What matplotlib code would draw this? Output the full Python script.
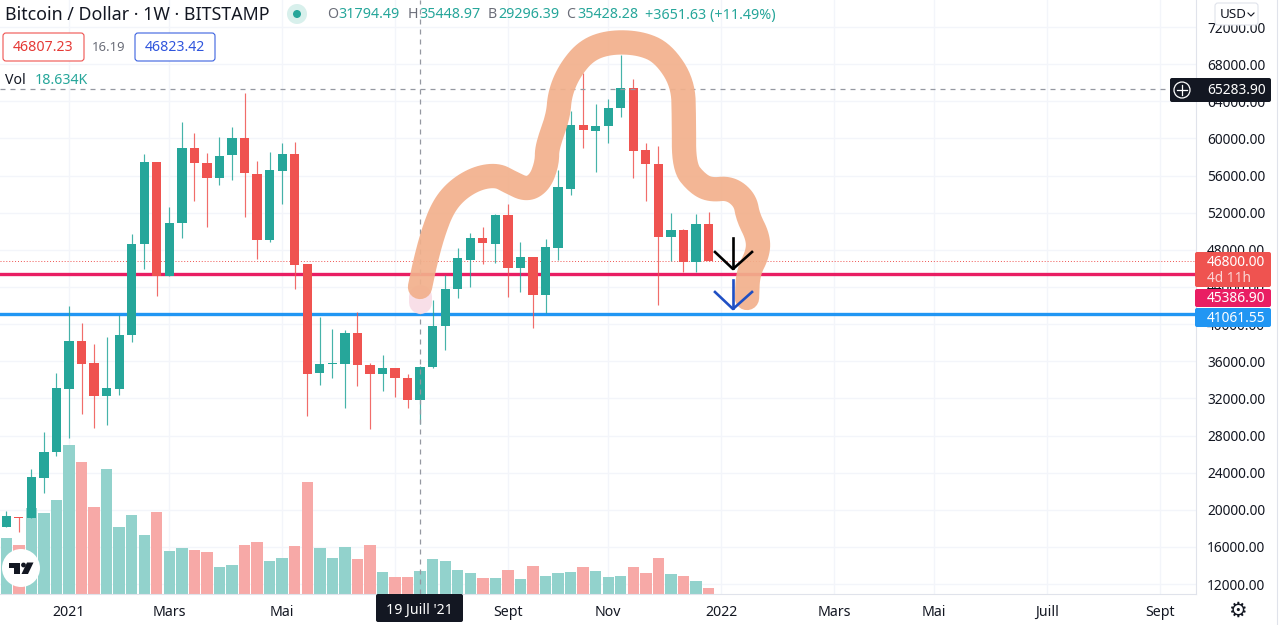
import numpy as np
import matplotlib
matplotlib.use("Agg")
import matplotlib.pyplot as plt
from matplotlib.patches import FancyBboxPatch, Circle, Polygon

plt.rcParams['font.family'] = ['Noto Sans', 'DejaVu Sans']

# weekly candles
opens = [18182, 19259, 19087, 23460, 26228, 33045, 38182, 35781, 32226, 33045, 38796, 48597, 57493, 45183, 50923,
         58968, 57385, 55705, 58214, 60013, 56168, 49060, 56524, 58322, 46443, 34736, 35673, 35738, 39012, 35597,
         34661, 35242, 34165, 31794.49, 35428, 39830, 43815, 46906, 49275, 48662, 51752, 46012, 47229, 43136, 48220,
         54583, 61445, 60799, 61338, 63309, 65430, 58700, 57278, 49415, 50105, 46691, 50800]
closes = [19335, 19152, 23503, 26260, 33120, 38182, 35738, 32226, 33120, 38828, 48597, 57493, 45215, 50923, 58968,
          57385, 55705, 58139, 60013, 56276, 49092, 56567, 58322, 46367, 34661, 35705, 35813, 39012, 35565, 34661,
          35307, 34165, 31794, 35428.28, 39830, 43815, 47089, 49275, 48769, 51785, 46012, 47229, 43136, 48274, 54736,
          61445, 60907, 61370, 63309, 65430, 58678, 57278, 49415, 50105, 46691, 50751, 46800]
highs = [19906, 19259, 24364, 28382, 34768, 41984, 40153, 37859, 38645, 40982, 49706, 58322, 57493, 52582, 61736,
         60552, 58398, 60121, 61230, 64860, 57601, 58505, 59539, 59647, 46443, 40799, 39475, 39367, 41338, 35781,
         36642, 35242, 34661, 35448.97, 42598, 45290, 48166, 49782, 50492, 51860, 52937, 48812, 47229, 49168, 56567,
         62953, 67014, 63675, 64213, 68984, 66367, 59539, 59216, 51936, 50212, 51860, 52043]
lows = [18182, 17644, 19087, 21844, 25829, 27768, 30288, 28812, 29135, 32399, 38042, 45904, 43061, 45183, 49308,
        53293, 50428, 54983, 55522, 51537, 47014, 48877, 52937, 43783, 30137, 33411, 34230, 30999, 33336, 28672,
        32765, 32151, 30999, 29296.39, 35300, 37213, 42846, 43966, 46443, 46551, 42953, 43427, 39615, 41166, 46906,
        53939, 59001, 56416, 59475, 62339, 55705, 53293, 42059, 46831, 45646, 45646, 46800]
# volume in thousands
volumes = [44.8, 39, 69, 65, 75, 119.4, 105.6, 69.6, 100, 53.6, 63, 47, 66, 34.4, 37, 35, 33.6, 21.6, 23, 39, 42,
           26.6, 28.8, 38.4, 89.6, 36.8, 28.8, 37.6, 28, 39, 17.6, 13.8, 13.8, 18.634, 27.8, 26.6, 18.9, 16.8, 12.8,
           12.8, 18.9, 12, 22.4, 14.6, 16.8, 17.6, 21.6, 18.4, 13.8, 14.6, 21.6, 16.8, 28.5, 16.2, 14.1, 10.6, 5]
vol_up = [1, 0, 1, 1, 1, 1, 0, 0, 1, 1, 1, 1, 0, 1, 1, 0, 0, 1, 1, 0, 0, 1, 1, 0, 0, 1, 1, 1, 0, 0, 1, 0, 0, 1, 1,
          1, 1, 1, 0, 1, 0, 1, 0, 1, 1, 1, 0, 1, 1, 1, 0, 0, 0, 1, 0, 1, 0]

price_ticks = list(range(12000, 76000, 4000))
time_ticks = [5, 13, 22, 31, 40, 48, 57, 66, 74, 83, 92]
time_labels = ['2021', 'Mars', 'Mai', '', 'Sept', 'Nov', '2022', 'Mars', 'Mai', 'Juill', 'Sept']

support_red = 45386.90
support_blue = 41061.55
last_price = 46800.00
crosshair_price = 65283.90
crosshair_week = 33

# freehand marker stroke and arrows, screen position
stroke_x = [420, 425, 433, 443, 457, 477, 497, 510, 527, 540, 547, 547, 558, 560, 570, 587, 610, 640, 663, 683,
            684, 684, 697, 710, 730, 745, 748, 758, 758, 748, 747]
stroke_y = [287, 263, 233, 207, 190, 178, 175, 182, 190, 182, 163, 147, 117, 93, 70, 50, 42, 43, 53, 83,
            120, 167, 183, 190, 188, 200, 217, 237, 253, 273, 298]

UP = '#26a69a'
DOWN = '#ef5350'
UP_VOL = '#92d2cc'
DOWN_VOL = '#f7a9a7'
GRID = '#f3f5fa'
TEXT = '#131722'
LABEL_SIZE = 9.9


def chaikin(xs, ys, rounds=3):
    # rounds off the corners of the hand drawn stroke
    pts = np.column_stack([xs, ys]).astype(float)
    for _ in range(rounds):
        q = 0.75 * pts[:-1] + 0.25 * pts[1:]
        r = 0.25 * pts[:-1] + 0.75 * pts[1:]
        mid = np.empty((2 * len(q), 2))
        mid[0::2] = q
        mid[1::2] = r
        pts = np.vstack([pts[0], mid, pts[-1]])
    return pts[:, 0], pts[:, 1]


fig = plt.figure(figsize=(12.8, 6.25), dpi=100)
ax = fig.add_axes([0, 31 / 625, 1196 / 1280, 594 / 625])
ax.set_xlim(-0.502, 94.87)
y_min, y_max = 10934, 74908
ax.set_ylim(y_min, y_max)

weeks = np.arange(len(opens))
vol_scale = (y_max - y_min) / 475.2

ax.bar(weeks, np.array(volumes) * vol_scale, bottom=y_min, width=0.91,
       color=[UP_VOL if u else DOWN_VOL for u in vol_up], zorder=2)

ax.axhline(support_red, color='#e91e63', lw=2.4, zorder=3)
ax.axhline(support_blue, color='#2196f3', lw=2.4, zorder=3)
ax.axhline(last_price, color=DOWN, lw=0.7, ls=(0, (1, 2)), zorder=3)
ax.axhline(crosshair_price, color='#9598a1', lw=0.9, ls=(0, (4, 4)), zorder=6)
ax.axvline(crosshair_week, color='#9598a1', lw=0.9, ls=(0, (4, 4)), zorder=6)

for i in weeks:
    c = UP if closes[i] >= opens[i] else DOWN
    ax.vlines(i, lows[i], highs[i], color=c, lw=0.85, alpha=0.85, zorder=4)
    ax.bar(i, abs(closes[i] - opens[i]), bottom=min(opens[i], closes[i]), width=0.74, color=c, zorder=5)

ax.set_yticks(price_ticks, [f'{p:.2f}' for p in price_ticks])
ax.yaxis.tick_right()
ax.set_xticks(time_ticks, time_labels)
ax.grid(True, color=GRID, lw=1, zorder=0)
ax.set_axisbelow(True)
ax.tick_params(axis='y', length=0, pad=8, labelsize=LABEL_SIZE, labelcolor=TEXT)
ax.tick_params(axis='x', length=0, pad=8, labelsize=10.2, labelcolor=TEXT)
for lab in ax.get_xticklabels():
    if lab.get_text() in ('2021', '2022'):
        lab.set_fontweight('bold')
for name in ('top', 'left'):
    ax.spines[name].set_visible(False)
for name in ('right', 'bottom'):
    ax.spines[name].set_color('#e0e3eb')

# overlay in screen pixels for the marker drawing and the TradingView labels
ov = fig.add_axes([0, 0, 1, 1], zorder=10)
ov.set_xlim(0, 1280)
ov.set_ylim(625, 0)
ov.axis('off')
ov.patch.set_alpha(0)

ov.plot([420, 420], [296, 302], color='#f8dfe8', lw=16.5, solid_capstyle='round', zorder=1)
sx, sy = chaikin(stroke_x, stroke_y)
ov.plot(sx, sy, color='#f2b08c', lw=17.5, alpha=0.92, solid_capstyle='round', solid_joinstyle='round', zorder=2)

ov.plot([733, 733], [238, 268], color='black', lw=1.9, zorder=3)
ov.plot([715, 733, 752], [252, 269, 252], color='black', lw=1.9, zorder=3)
ov.plot([733, 733], [280, 308], color='#1f4fc4', lw=1.9, zorder=3)
ov.plot([715, 733, 752], [292, 309, 292], color='#1f4fc4', lw=1.9, zorder=3)


def price_box(x0, y0, x1, y1, color):
    ov.add_patch(FancyBboxPatch((x0 + 1, y0 + 1), x1 - x0 - 2, y1 - y0 - 2, boxstyle='round,pad=1,rounding_size=2',
                                fc=color, ec='none', zorder=5))


price_box(1170, 78, 1271, 102, '#131722')
ov.add_patch(Circle((1182, 90), 8, fc='none', ec='white', lw=0.9, zorder=6))
ov.plot([1177, 1187], [90, 90], color='white', lw=0.9, zorder=6)
ov.plot([1182, 1182], [85, 95], color='white', lw=0.9, zorder=6)
ov.text(1207, 90.5, f'{crosshair_price:.2f}', color='white', fontsize=LABEL_SIZE, fontweight='bold', va='center', zorder=6)

price_box(1195, 252, 1271, 287, DOWN)
ov.text(1207, 262, f'{last_price:.2f}', color='white', fontsize=LABEL_SIZE, fontweight='bold', va='center', zorder=6)
ov.text(1207, 278, '4d 11h', color='#fbd5d4', fontsize=LABEL_SIZE, fontweight='bold', va='center', zorder=6)
price_box(1195, 289, 1271, 307, '#e91e63')
ov.text(1207, 298.5, f'{support_red:.2f}', color='white', fontsize=LABEL_SIZE, fontweight='bold', va='center', zorder=6)
price_box(1195, 308, 1271, 327, '#2196f3')
ov.text(1207, 318, f'{support_blue:.2f}', color='white', fontsize=LABEL_SIZE, fontweight='bold', va='center', zorder=6)

ov.add_patch(FancyBboxPatch((1216, 4), 41, 20, boxstyle='round,pad=1,rounding_size=3', fc='white', ec='#e0e3eb',
                            lw=0.8, zorder=5))
ov.text(1220, 14, 'USD', color=TEXT, fontsize=9.7, va='center', zorder=6)
ov.plot([1248, 1251, 1254], [13, 16, 13], color=TEXT, lw=0.8, zorder=6)

price_box(376, 594, 463, 622, '#131722')
ov.text(419.5, 610, "19 Juill '21", color='white', fontsize=10.2, fontweight='bold', ha='center', va='center', zorder=6)
ov.text(1237, 611, '\u2699', color=TEXT, fontsize=15, ha='center', va='center', family='DejaVu Sans', zorder=6)
ov.plot([1277, 1277], [0, 625], color='#e0e3eb', lw=0.8, zorder=1)

# header
ov.text(5, 14.5, 'Bitcoin / Dollar \u00b7 1W \u00b7 BITSTAMP', color=TEXT, fontsize=12.8, va='center', zorder=6)
ov.add_patch(Circle((297, 14), 10, fc='#d8f0ec', ec='none', zorder=5))
ov.add_patch(Circle((297, 14), 4, fc=UP, ec='none', zorder=6))

ohlc_letters = [('O', 327), ('H', 408), ('B', 488), ('C', 566)]
ohlc_values = [('31794.49', 338), ('35448.97', 419), ('29296.39', 498), ('35428.28', 577),
               ('+3651.63 (+11.49%)', 645)]
for s, x in ohlc_letters:
    ov.text(x, 15, s, color='#6a6d78', fontsize=10.2, va='center', zorder=6)
for s, x in ohlc_values:
    ov.text(x, 15, s, color=UP, fontsize=10.3, va='center', zorder=6)

ov.add_patch(FancyBboxPatch((5, 35), 77, 24, boxstyle='round,pad=2,rounding_size=3', fc='white', ec='#ef5350',
                            lw=0.8, zorder=5))
ov.text(43.5, 47.5, '46807.23', color='#e53935', fontsize=10.2, ha='center', va='center', zorder=6)
ov.text(109, 47.5, '16.19', color='#6a6d78', fontsize=9.4, ha='center', va='center', zorder=6)
ov.add_patch(FancyBboxPatch((137, 35), 76, 24, boxstyle='round,pad=2,rounding_size=3', fc='white', ec='#3b62e0',
                            lw=0.8, zorder=5))
ov.text(175, 47.5, '46823.42', color='#2f55dd', fontsize=10.2, ha='center', va='center', zorder=6)

ov.text(5, 80.5, 'Vol', color=TEXT, fontsize=10.2, va='center', zorder=6)
ov.text(35, 80.5, '18.634K', color=UP, fontsize=10.2, va='center', zorder=6)

# TradingView badge
ov.add_patch(Circle((21, 568), 19, fc='white', ec='none', zorder=5))
ov.add_patch(Polygon([(8.5, 562.5), (20, 562.5), (20, 574), (14, 574), (14, 567.5), (8.5, 567.5)], fc='#131722',
                     ec='none', zorder=6))
ov.add_patch(Circle((23.5, 565), 2.4, fc='#131722', ec='none', zorder=6))
ov.add_patch(Polygon([(27, 562.5), (33.5, 562.5), (28, 574), (21.5, 574)], fc='#131722', ec='none', zorder=6))

fig.savefig('out.png', dpi=100)
